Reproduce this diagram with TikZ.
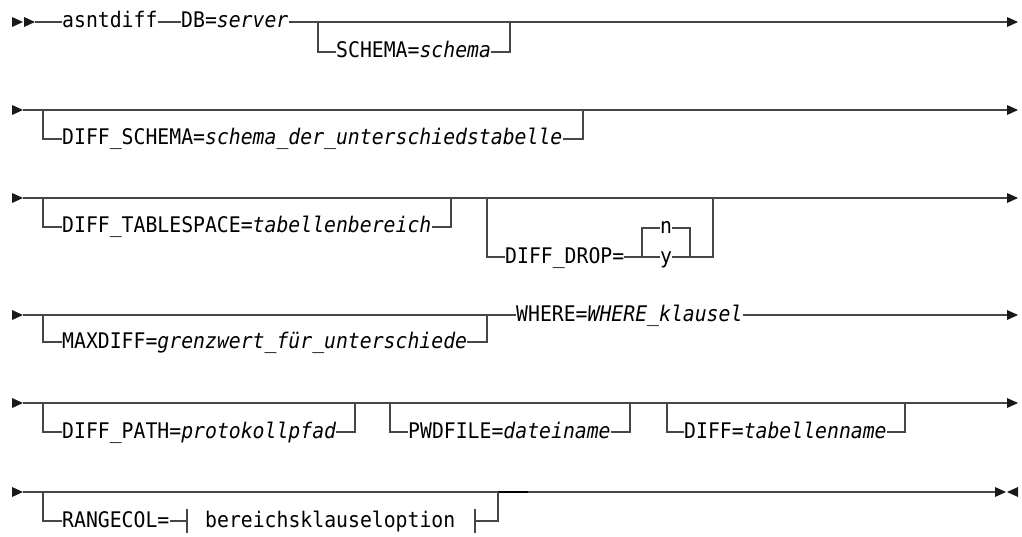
\documentclass[tikz,border=0pt]{standalone}
\usepackage{fontspec}
\newfontfamily\railfont[FakeStretch=0.92]{DejaVu Sans Mono}
\usetikzlibrary{positioning, calc}
\definecolor{railgray}{RGB}{70, 70, 70}
\tikzset{
    kw/.style={inner sep=0pt, text height=15pt, text depth=3pt, anchor=west, font=\railfont\fontsize{21.5}{24}\selectfont},
    rail/.style={draw=railgray, line width=1.2pt},
    tip/.style={fill=black!90}
}

\begin{document}
\begin{tikzpicture}[x=1pt, y=-1pt]
    \useasboundingbox (0,0) rectangle (1022,537);

    % --- ROW MARKERS ---
    \fill[tip] (12,17) -- (23,22) -- (12,27) -- cycle;
    \fill[tip] (24,17) -- (35,22) -- (24,27) -- cycle;
    \foreach \y in {110,198,315,403,492}
        \fill[tip] (12,\y-5) -- (23,\y) -- (12,\y+5) -- cycle;
    \foreach \y in {22,110,198,315,403}
        \fill[tip] (1007,\y-5) -- (1018,\y) -- (1007,\y+5) -- cycle;
    \fill[tip] (995,487) -- (1006,492) -- (995,497) -- cycle;
    \fill[tip] (1018,487) -- (1007,492) -- (1018,497) -- cycle;

    % ROW 1: command and server
    \coordinate (s1) at (35,22);
    \coordinate (e1) at (1007,22);
    \node[kw] (cmd) at (62,22) {asntdiff};
    \node[kw] (db) at (181,22) {DB=\textit{server}};
    \node[kw] (schema) at (336,52) {SCHEMA=\textit{schema}};
    \coordinate (j1a) at (318,22);
    \coordinate (j1b) at (510,22);
    \draw[rail] (s1) -- (cmd.west) (cmd.east) -- (db.west) (db.east) -- (e1);
    \draw[rail] (j1a) |- (schema.west);
    \draw[rail] (schema.east) -| (j1b);

    % ROW 2: DIFF_SCHEMA
    \coordinate (s2) at (23,110);
    \coordinate (e2) at (1007,110);
    \coordinate (j2a) at (43,110);
    \coordinate (j2b) at (583,110);
    \node[kw] (dschema) at (62,139) {DIFF\_SCHEMA=\textit{schema\_der\_unterschiedstabelle}};
    \draw[rail] (s2) -- (e2);
    \draw[rail] (j2a) |- (dschema.west);
    \draw[rail] (dschema.east) -| (j2b);

    % ROW 3: DIFF_TABLESPACE and DIFF_DROP
    \coordinate (s3) at (23,198);
    \coordinate (e3) at (1007,198);
    \coordinate (j3a) at (43,198);
    \coordinate (j3b) at (451,198);
    \coordinate (j3c) at (487,198);
    \coordinate (j3d) at (713,198);
    \node[kw] (tspace) at (62,227) {DIFF\_TABLESPACE=\textit{tabellenbereich}};
    \node[kw] (drop) at (505,257) {DIFF\_DROP=};
    \node[kw] (optn) at (660,228) {n};
    \node[kw] (opty) at (660,257) {y};
    \coordinate (c3a) at (642,257);
    \coordinate (c3b) at (690,257);
    \draw[rail] (s3) -- (e3);
    \draw[rail] (j3a) |- (tspace.west);
    \draw[rail] (tspace.east) -| (j3b);
    \draw[rail] (j3c) |- (drop.west);
    \draw[rail] (drop.east) -- (opty.west) (opty.east) -- (c3b);
    \draw[rail] (c3a) |- (optn.west);
    \draw[rail] (optn.east) -| (c3b);
    \draw[rail] (c3b) -| (j3d);

    % ROW 4: MAXDIFF and WHERE
    \coordinate (s4) at (23,315);
    \coordinate (e4) at (1007,315);
    \coordinate (j4a) at (43,315);
    \coordinate (j4b) at (487,315);
    \node[kw] (maxd) at (62,342) {MAXDIFF=\textit{grenzwert\_für\_unterschiede}};
    \node[kw] (where) at (516,315) {WHERE=\textit{WHERE\_klausel}};
    \draw[rail] (s4) -- (where.west) (where.east) -- (e4);
    \draw[rail] (j4a) |- (maxd.west);
    \draw[rail] (maxd.east) -| (j4b);

    % ROW 5: DIFF_PATH, PWDFILE, DIFF
    \coordinate (s5) at (23,403);
    \coordinate (e5) at (1007,403);
    \node[kw] (dpath) at (62,432) {DIFF\_PATH=\textit{protokollpfad}};
    \node[kw] (pwd) at (408,432) {PWDFILE=\textit{dateiname}};
    \node[kw] (dtab) at (684,432) {DIFF=\textit{tabellenname}};
    \draw[rail] (s5) -- (e5);
    \draw[rail] (43,403) |- (dpath.west);
    \draw[rail] (dpath.east) -| (355,403);
    \draw[rail] (390,403) |- (pwd.west);
    \draw[rail] (pwd.east) -| (630,403);
    \draw[rail] (667,403) |- (dtab.west);
    \draw[rail] (dtab.east) -| (905,403);

    % ROW 6: RANGECOL fragment
    \coordinate (s6) at (23,492);
    \coordinate (e6) at (995,492);
    \coordinate (j6a) at (43,492);
    \coordinate (j6b) at (498,492);
    \node[kw] (range) at (62,521) {RANGECOL=};
    \node[kw] (frag) at (205,521) {bereichsklauseloption};
    \coordinate (t6a) at (187,521);
    \coordinate (t6b) at (475,521);
    \draw[rail] (s6) -- (e6);
    \draw[line width=1.6pt, black] (j6b) -- (528,492);
    \draw[rail] (j6a) |- (range.west);
    \draw[rail] (range.east) -- (t6a);
    \draw[rail] (t6a) ++(0,-12) -- ++(0,24);
    \draw[rail] (t6b) ++(0,-12) -- ++(0,24);
    \draw[rail] (t6b) -| (j6b);
\end{tikzpicture}
\end{document}
